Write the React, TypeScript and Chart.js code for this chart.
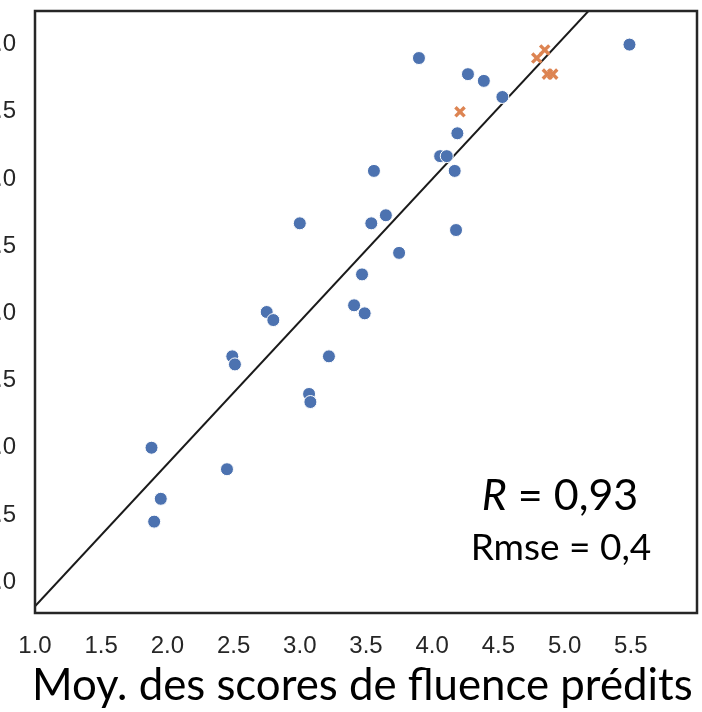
import React, { useEffect, useRef } from "react";
import { Chart, registerables } from "chart.js";

Chart.register(...registerables);

// Observed vs. predicted fluency scores
const blueX = [3.9, 4.27, 4.39, 4.53, 4.19, 5.49, 4.06, 4.11, 3.56, 4.17, 3.0, 3.54, 3.65, 4.18, 3.75, 3.47, 3.41, 3.49, 2.75, 2.8, 2.49, 2.51, 3.22, 3.07, 3.08, 1.88, 2.45, 1.95, 1.9];
const blueY = [4.9, 4.78, 4.73, 4.61, 4.34, 5.0, 4.17, 4.17, 4.06, 4.06, 3.67, 3.67, 3.73, 3.62, 3.45, 3.29, 3.06, 3.0, 3.01, 2.95, 2.68, 2.62, 2.68, 2.4, 2.34, 2.0, 1.84, 1.62, 1.45];

const orangeX = [4.21, 4.79, 4.85, 4.87, 4.91];
const orangeY = [4.5, 4.9, 4.96, 4.78, 4.78];

// Fitted line endpoints
const lineX = [0.99, 5.19];
const lineY = [0.81, 5.26];

const xTickValues = [1.0, 1.5, 2.0, 2.5, 3.0, 3.5, 4.0, 4.5, 5.0, 5.5];
const yTickValues = [1.0, 1.5, 2.0, 2.5, 3.0, 3.5, 4.0, 4.5, 5.0];

const xTitle = "Moy. des scores de fluence prédits";
const rLabel = "0,93";
const rmseLabel = "Rmse = 0,4";

const OFFSET = 40; // part of the canvas hidden past the left page edge
const INK = "#262626";

const framePlugin = {
  id: "frameAndText",
  afterDatasetsDraw(chart: any) {
    const { ctx, chartArea } = chart;
    ctx.save();
    ctx.strokeStyle = INK;
    ctx.lineWidth = 2.5;
    ctx.strokeRect(chartArea.left, chartArea.top, chartArea.right - chartArea.left, chartArea.bottom - chartArea.top);
    ctx.restore();
  },
  afterDraw(chart: any) {
    const { ctx } = chart;
    ctx.save();
    ctx.fillStyle = "#000";
    ctx.textBaseline = "alphabetic";

    // axis title, fitted to the plot width
    const targetW = 661;
    ctx.font = "100px Lato";
    const w100 = ctx.measureText(xTitle).width;
    const size = (100 * targetW) / w100;
    ctx.font = `${size}px Lato`;
    ctx.textAlign = "left";
    ctx.fillText(xTitle, OFFSET + 32, 700);

    // statistics
    const cx = OFFSET + 560;
    ctx.font = "italic 43px Lato";
    const rW = ctx.measureText("R").width;
    ctx.font = "43px Lato";
    const restW = ctx.measureText(" = " + rLabel).width;
    const startX = cx - (rW + restW) / 2;
    ctx.textAlign = "left";
    ctx.font = "italic 43px Lato";
    ctx.fillText("R", startX, 510);
    ctx.font = "43px Lato";
    ctx.fillText(" = " + rLabel, startX + rW, 510);

    ctx.font = "37px Lato";
    ctx.textAlign = "center";
    ctx.fillText(rmseLabel, cx + 1, 560);
    ctx.restore();
  },
};

export default function App() {
  const ref = useRef<HTMLCanvasElement | null>(null);

  useEffect(() => {
    if (!ref.current) return;
    const chart = new Chart(ref.current, {
      type: "scatter",
      data: {
        datasets: [
          {
            label: "observés",
            data: blueX.map((x, i) => ({ x, y: blueY[i] })),
            backgroundColor: "#4C72B0",
            borderColor: "#ffffff",
            borderWidth: 1,
            pointRadius: 6.5,
            pointHoverRadius: 6.5,
            pointStyle: "circle",
            order: 1,
          },
          {
            label: "autres",
            data: orangeX.map((x, i) => ({ x, y: orangeY[i] })),
            backgroundColor: "#DD8452",
            borderColor: "#DD8452",
            borderWidth: 3.4,
            pointRadius: 6.5,
            pointHoverRadius: 6.5,
            pointStyle: "crossRot",
            order: 2,
          },
          {
            type: "line",
            label: "ajustement",
            data: lineX.map((x, i) => ({ x, y: lineY[i] })),
            borderColor: "#1a1a1a",
            borderWidth: 2,
            pointRadius: 0,
            fill: false,
            order: 3,
          } as any,
        ],
      },
      options: {
        animation: false,
        responsive: false,
        layout: { autoPadding: false, padding: { top: 11, right: 5, left: 0, bottom: 0 } },
        plugins: { legend: { display: false }, tooltip: { enabled: false } },
        scales: {
          x: {
            type: "linear",
            min: 1.0,
            max: 6.0,
            grid: { display: false, drawTicks: false },
            border: { display: false },
            afterBuildTicks: (axis: any) => {
              axis.ticks = xTickValues.map((v) => ({ value: v }));
            },
            afterFit: (axis: any) => {
              axis.height = 99;
              axis.paddingLeft = 0;
              axis.paddingRight = 0;
            },
            ticks: {
              padding: 19,
              color: INK,
              font: { family: "Liberation Sans", size: 24 },
              maxRotation: 0,
              autoSkip: false,
              callback: (v: any) => Number(v).toFixed(1),
            },
          },
          y: {
            type: "linear",
            min: 0.77,
            max: 5.25,
            grid: { display: false, drawTicks: false },
            border: { display: false },
            afterBuildTicks: (axis: any) => {
              axis.ticks = yTickValues.map((v) => ({ value: v }));
            },
            afterFit: (axis: any) => {
              axis.width = OFFSET + 35;
              axis.paddingTop = 0;
              axis.paddingBottom = 0;
            },
            ticks: {
              padding: 19,
              color: INK,
              font: { family: "Liberation Sans", size: 24 },
              autoSkip: false,
              callback: (v: any) => Number(v).toFixed(1),
            },
          },
        },
      },
      plugins: [framePlugin],
    });
    return () => chart.destroy();
  }, []);

  return (
    <div style={{ position: "absolute", left: -OFFSET, top: 0, width: 702 + OFFSET, height: 712, background: "#fff" }}>
      <canvas ref={ref} width={702 + OFFSET} height={712} style={{ display: "block" }} />
    </div>
  );
}
